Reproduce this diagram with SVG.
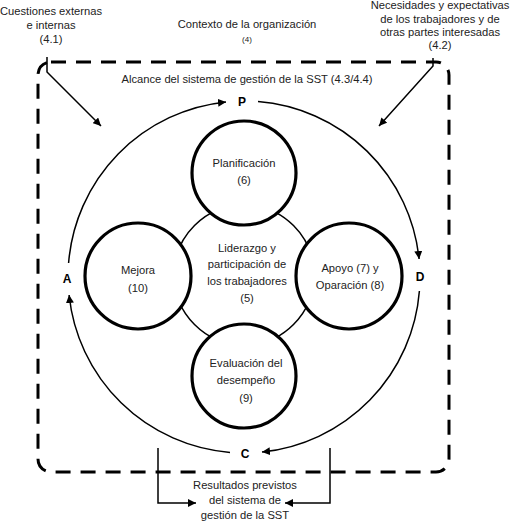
<svg xmlns="http://www.w3.org/2000/svg" width="510" height="523" viewBox="0 0 510 523">
<style>
text{font-family:"Liberation Sans",Arial,sans-serif;font-size:11.2px;fill:#222;text-anchor:middle}
.b{font-weight:bold;fill:#000;font-size:12px}
.sm{font-size:8px}
.ln{fill:none;stroke:#000;stroke-width:1.5}
.thick{fill:#fff;stroke:#000;stroke-width:3.2}
.dash{fill:none;stroke:#000;stroke-width:3;stroke-dasharray:15 10}
</style>
<defs>
<marker id="ah2" viewBox="0 0 10 10" refX="10" refY="5" markerWidth="8" markerHeight="8" orient="auto" markerUnits="userSpaceOnUse">
<path d="M0,0 L10,5 L0,10 z" fill="#000"/>
</marker>
</defs>
<rect class="dash" x="38" y="62" width="411" height="410" rx="13"/>
<g id="connectors">
<path class="ln" d="M68.6,263 A176,176 0 0 1 226,101.9" marker-end="url(#ah2)"/>
<path class="ln" d="M258,101.6 A176,176 0 0 1 419.1,259" marker-end="url(#ah2)"/>
<path class="ln" d="M419.4,291 A176,176 0 0 1 262,452.1" marker-end="url(#ah2)"/>
<path class="ln" d="M230,452.4 A176,176 0 0 1 69.1,295" marker-end="url(#ah2)"/>
<path class="ln" d="M47,57 L47,72 L101,126" marker-end="url(#ah2)"/>
<path class="ln" d="M433,58 L433,66 L379,126" marker-end="url(#ah2)"/>
<path class="ln" d="M158,448 L158,503 L196,503" marker-end="url(#ah2)"/>
<path class="ln" d="M330,448 L330,503 L285,503" marker-end="url(#ah2)"/>
</g>
<g id="labels">
<text x="51" y="15">Cuestiones externas</text>
<text x="51" y="29">e internas</text>
<text x="51" y="43">(4.1)</text>
<text x="247" y="28">Contexto de la organización</text>
<text class="sm" x="247" y="42">(4)</text>
<text x="440" y="9">Necesidades y expectativas</text>
<text x="440" y="22.5">de los trabajadores y de</text>
<text x="440" y="36">otras partes interesadas</text>
<text x="440" y="49">(4.2)</text>
<text x="247" y="83">Alcance del sistema de gestión de la SST (4.3/4.4)</text>
<text class="b" x="242" y="106">P</text>
<text class="b" x="420" y="281">D</text>
<text class="b" x="245" y="458">C</text>
<text class="b" x="67" y="283">A</text>
<text x="245" y="489">Resultados previstos</text>
<text x="245" y="504">del sistema de</text>
<text x="245" y="519">gestión de la SST</text>
</g>
<g id="liderazgo">
<circle class="ln" cx="244" cy="275" r="70"/>
<text x="247" y="252">Liderazgo y</text>
<text x="247" y="268">participación de</text>
<text x="247" y="285">los trabajadores</text>
<text x="247" y="302">(5)</text>
</g>
<g id="planificacion">
<circle class="thick" cx="244" cy="173" r="52"/>
<text x="244" y="167">Planificación</text>
<text x="244" y="184">(6)</text>
</g>
<g id="evaluacion">
<circle class="thick" cx="244" cy="376" r="52"/>
<text x="246" y="367">Evaluación del</text>
<text x="246" y="384">desempeño</text>
<text x="246" y="402">(9)</text>
</g>
<g id="mejora">
<circle class="thick" cx="138" cy="276" r="53"/>
<text x="138" y="274">Mejora</text>
<text x="138" y="292">(10)</text>
</g>
<g id="apoyo">
<circle class="thick" cx="349" cy="276" r="53"/>
<text x="350" y="272">Apoyo (7) y</text>
<text x="350" y="289">Oparación (8)</text>
</g>
</svg>
